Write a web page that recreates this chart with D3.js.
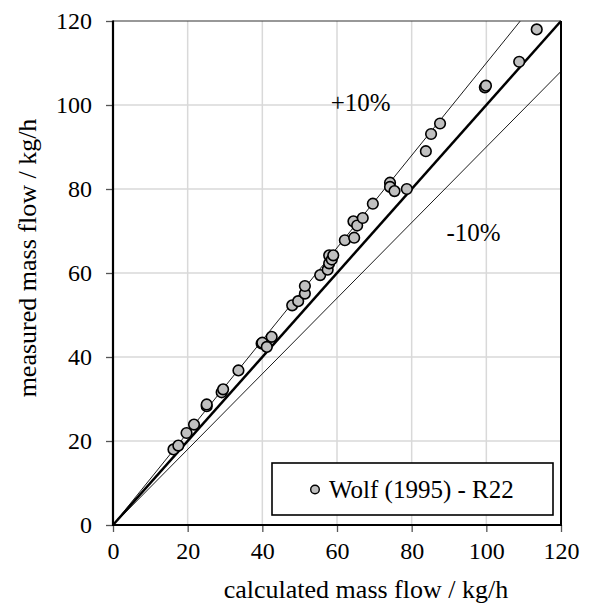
<!DOCTYPE html>
<html><head><meta charset="utf-8">
<script src="https://cdn.jsdelivr.net/npm/d3@7/dist/d3.min.js"></script>
<style>body{margin:0;background:#fff}svg{display:block}svg text{font-family:"Liberation Serif","Times New Roman",serif !important;fill:#000}</style>
</head><body><svg id="c" width="595" height="608"></svg>
<script>
const calc = [16.2,17.5,19.7,21.7,25.1,25.1,29.1,29.5,33.6,39.8,40.0,41.2,42.5,48.0,49.6,51.4,51.4,55.5,57.5,57.9,57.9,58.6,59.0,62.1,64.6,64.4,65.4,66.9,69.6,74.2,74.2,75.4,78.7,83.8,85.2,87.6,99.6,99.9,108.8,113.5];
const meas = [18.0,18.9,21.9,23.9,28.3,28.7,31.6,32.3,36.8,43.2,43.4,42.4,44.8,52.3,53.3,55.1,56.9,59.5,60.8,62.3,64.2,63.2,64.2,67.8,68.4,72.3,71.3,73.1,76.5,81.5,80.5,79.5,80.0,89.0,93.1,95.6,104.2,104.6,110.3,118.0];
const ticks = [0,20,40,60,80,100,120];
const bandLabels = ["+10%","-10%"];
const legendLabel = "Wolf (1995) - R22";
const xTitle = "calculated mass flow / kg/h";
const yTitle = "measured mass flow / kg/h";

const FONT = '"Liberation Serif","Times New Roman",serif';
const svg = d3.select("#c");
const L=113,R=561,T=21,B=525;
const x = d3.scaleLinear().domain([0,120]).range([L,R]);
const y = d3.scaleLinear().domain([0,120]).range([B,T]);

// grid
svg.append("g").selectAll("line").data(ticks.slice(1,-1)).join("line")
  .attr("x1",d=>x(d)).attr("x2",d=>x(d)).attr("y1",T).attr("y2",B)
  .attr("stroke","#d9d9d9").attr("stroke-width",1.5);
svg.append("g").selectAll("line").data(ticks.slice(1,-1)).join("line")
  .attr("y1",d=>y(d)).attr("y2",d=>y(d)).attr("x1",L).attr("x2",R)
  .attr("stroke","#d9d9d9").attr("stroke-width",1.5);

// axes
const fs = 24;
const xa = svg.append("g").attr("transform",`translate(0,${B})`)
  .call(d3.axisBottom(x).tickValues(ticks).tickSize(7).tickPadding(10).tickSizeOuter(0));
const ya = svg.append("g").attr("transform",`translate(${L},0)`)
  .call(d3.axisLeft(y).tickValues(ticks).tickSize(7).tickPadding(14).tickSizeOuter(0));
[xa,ya].forEach(a=>{a.select(".domain").remove();
  a.attr("font-family",FONT);
  a.selectAll("line").attr("stroke","#555").attr("stroke-width",1.3);
  a.selectAll("text").attr("font-size",fs).style("font-family",FONT).attr("fill","#000");});

// reference lines
const lineG = svg.append("g");
lineG.append("line").attr("x1",x(0)).attr("y1",y(0)).attr("x2",x(120/1.1)).attr("y2",y(120)).attr("stroke","#000").attr("stroke-width",0.9);
lineG.append("line").attr("x1",x(0)).attr("y1",y(0)).attr("x2",x(120)).attr("y2",y(108)).attr("stroke","#000").attr("stroke-width",0.9);
lineG.append("line").attr("x1",x(0)).attr("y1",y(0)).attr("x2",x(120)).attr("y2",y(120)).attr("stroke","#000").attr("stroke-width",2.5);

// frame
svg.append("line").attr("x1",L).attr("x2",R).attr("y1",T).attr("y2",T).attr("stroke","#333").attr("stroke-width",1.2);
svg.append("line").attr("x1",R).attr("x2",R).attr("y1",T).attr("y2",B).attr("stroke","#000").attr("stroke-width",2);
svg.append("line").attr("x1",L).attr("x2",L).attr("y1",T-0.5).attr("y2",B+1).attr("stroke","#000").attr("stroke-width",2.2);
svg.append("line").attr("x1",L).attr("x2",R+1).attr("y1",B).attr("y2",B).attr("stroke","#000").attr("stroke-width",2);

// points
svg.append("g").selectAll("circle").data(calc.map((c,i)=>[c,meas[i]])).join("circle")
  .attr("cx",d=>x(d[0])).attr("cy",d=>y(d[1])).attr("r",5.3)
  .attr("fill","#c0c0c0").attr("stroke","#000").attr("stroke-width",1.6);

const txt = (sel)=>sel.style("font-family",FONT);
// band labels
txt(svg.append("text").attr("x",x(58.3)).attr("y",y(98.5)).attr("font-size",25).text(bandLabels[0]));
txt(svg.append("text").attr("x",x(89.3)).attr("y",y(67.6)).attr("font-size",25).text(bandLabels[1]));

// legend
svg.append("rect").attr("x",272).attr("y",463).attr("width",281).attr("height",52)
  .attr("fill","#fff").attr("stroke","#000").attr("stroke-width",1.6);
svg.append("circle").attr("cx",315).attr("cy",489.5).attr("r",4.3).attr("fill","#c0c0c0").attr("stroke","#000").attr("stroke-width",1.4);
txt(svg.append("text").attr("x",329).attr("y",498).attr("font-size",25).text(legendLabel));

// titles
txt(svg.append("text").attr("x",366).attr("y",598).attr("text-anchor","middle").attr("font-size",26).text(xTitle));
txt(svg.append("text").attr("transform",`translate(36,258) rotate(-90)`).attr("text-anchor","middle").attr("font-size",26).text(yTitle));
</script></body></html>
